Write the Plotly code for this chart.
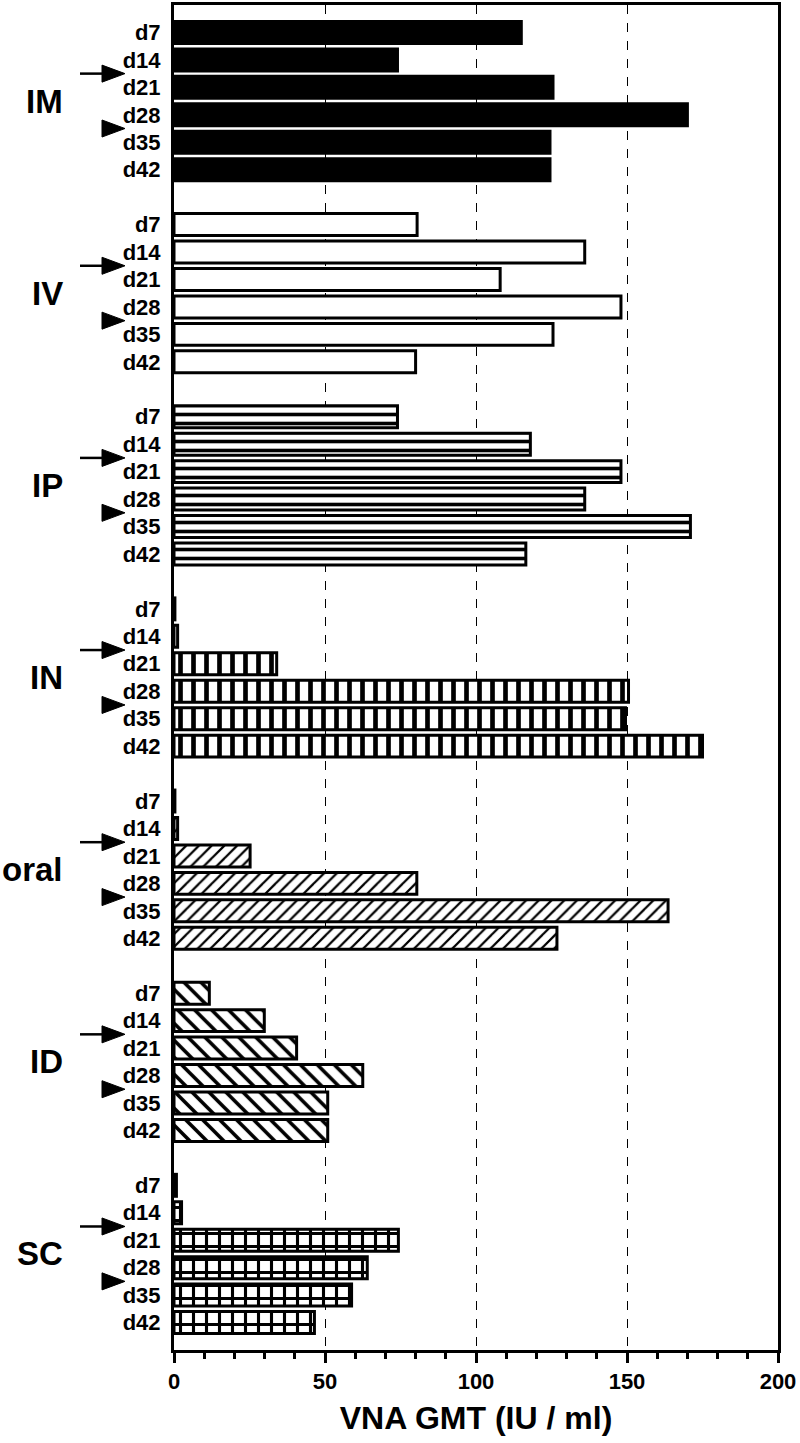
import plotly.graph_objects as go

groups = ["IM", "IV", "IP", "IN", "oral", "ID", "SC"]
days = ["d7", "d14", "d21", "d28", "d35", "d42"]

im_vals = [115, 74, 125.5, 170, 124.5, 124.5]
iv_vals = [80.5, 136, 108, 148, 125.5, 80]
ip_vals = [74, 118, 148, 136, 171, 116.5]
in_vals = [0.3, 1.2, 34, 150.5, 149.5, 175]
oral_vals = [0.3, 1.2, 25.2, 80.4, 163.6, 126.8]
id_vals = [11.7, 29.9, 40.6, 62.5, 50.9, 50.9]
sc_vals = [0.8, 2.5, 74.3, 64, 58.8, 46.5]

x_ticks = [0, 50, 100, 150, 200]
x_title = "VNA GMT (IU / ml)"

series = [im_vals, iv_vals, ip_vals, in_vals, oral_vals, id_vals, sc_vals]

# fill styles per group: (bar colour, pattern shape, pattern size, solidity)
styles = [
    ("black", "", 8, 0.3),
    ("white", "", 8, 0.3),
    ("white", "-", 9, 0.4),
    ("white", "|", 13, 0.36),
    ("white", "/", 9, 0.25),
    ("white", "\\", 12, 0.3),
    ("white", "+", 13, 0.42),
]

FONT = "Liberation Sans"
SLOTS = 7  # six days + one spacer per group

fig = go.Figure()
tickvals, ticktext = [], []
for g, (name, vals, st) in enumerate(zip(groups, series, styles)):
    ys = [g * SLOTS + d for d in range(len(days))]
    tickvals += ys
    ticktext += days
    color, shape, size, sol = st
    marker = dict(color=color, line=dict(color="black", width=3))
    if shape:
        marker["pattern"] = dict(shape=shape, fgcolor="black", bgcolor="white",
                                 size=size, solidity=sol, fillmode="replace",
                                 fgopacity=1)
    fig.add_trace(go.Bar(x=vals, y=ys, orientation="h", width=0.8,
                         marker=marker, name=name, showlegend=False))

# group labels and arrows
px_per_paper = 604.0
def paper_x(px):
    return (px - 174) / px_per_paper

shapes = []
annotations = []
for g, name in enumerate(groups):
    base = g * SLOTS
    annotations.append(dict(text=name, x=paper_x(65), xref="paper",
                            y=base + 2.5, yref="y", xanchor="right", yanchor="middle",
                            showarrow=False,
                            font=dict(family=FONT, size=33, color="black", weight="bold")))
    # arrow with shaft between d14 and d21
    ya = base + 1.5
    h = 0.31
    shapes.append(dict(type="line", xref="paper", yref="y", x0=paper_x(80), x1=paper_x(106),
                       y0=ya, y1=ya, line=dict(color="black", width=2.5)))
    shapes.append(dict(type="path", xref="paper", yref="y",
                       path="M %f,%f L %f,%f L %f,%f Z" % (paper_x(102), ya - h, paper_x(125), ya,
                                                           paper_x(102), ya + h),
                       fillcolor="black", line=dict(color="black", width=1)))
    # arrowhead only between d28 and d35
    yb = base + 3.5
    shapes.append(dict(type="path", xref="paper", yref="y",
                       path="M %f,%f L %f,%f L %f,%f Z" % (paper_x(102), yb - h, paper_x(125), yb,
                                                           paper_x(102), yb + h),
                       fillcolor="black", line=dict(color="black", width=1)))

fig.update_layout(
    width=800, height=1443,
    margin=dict(l=174, r=22, t=2, b=93),
    plot_bgcolor="white", paper_bgcolor="white",
    bargap=0.2,
    shapes=shapes, annotations=annotations,
    font=dict(family=FONT, color="black"),
)

fig.update_xaxes(
    range=[0, 200], tickvals=x_ticks, ticktext=[str(v) for v in x_ticks],
    tickfont=dict(family=FONT, size=22, color="black", weight="bold"),
    showline=True, linecolor="black", linewidth=3, mirror=True,
    ticks="outside", ticklen=10, tickwidth=2.5, tickcolor="black",
    minor=dict(dtick=10, tick0=0, ticks="outside", ticklen=6, tickwidth=2.5,
               tickcolor="black", showgrid=False),
    showgrid=True, gridcolor="black", gridwidth=1, griddash="dash",
    zeroline=False,
    title=dict(text=x_title, font=dict(family=FONT, size=32, color="black", weight="bold"),
               standoff=14),
)
fig.update_yaxes(
    range=[SLOTS * len(groups) - 1, -1],
    tickvals=tickvals, ticktext=ticktext,
    tickfont=dict(family=FONT, size=22, color="black", weight="bold"),
    showline=True, linecolor="black", linewidth=3, mirror=True,
    ticks="outside", ticklen=6, tickcolor="rgba(0,0,0,0)",
    showgrid=False, zeroline=False,
)

fig.write_html("out.html", config={"displayModeBar": False},
               post_script="document.body.style.margin='0';")
